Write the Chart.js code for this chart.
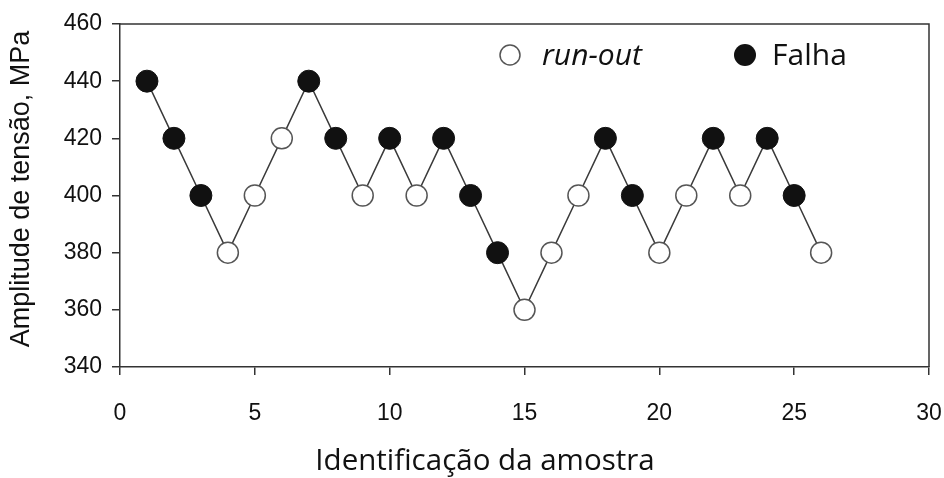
<!DOCTYPE html>
<html>
<head>
<meta charset="utf-8">
<script src="https://cdn.jsdelivr.net/npm/chart.js@4"></script>
<style>
  html, body { margin: 0; padding: 0; background: #fff; }
  #wrap { width: 944px; height: 478px; }
</style>
</head>
<body>
<div id="wrap"><canvas id="chart" width="944" height="478"></canvas></div>
<script>
// staircase test: stress level of each specimen, in test order
const specimens = [1, 2, 3, 4, 5, 6, 7, 8, 9, 10, 11, 12, 13, 14, 15, 16, 17, 18, 19, 20, 21, 22, 23, 24, 25, 26];
const stress = [440, 420, 400, 380, 400, 420, 440, 420, 400, 420, 400, 420, 400, 380, 360, 380, 400, 420, 400, 380, 400, 420, 400, 420, 400, 380];
// F = falha, R = run-out
const outcome = ['F', 'F', 'F', 'R', 'R', 'R', 'F', 'F', 'R', 'F', 'R', 'F', 'F', 'F', 'R', 'R', 'R', 'F', 'F', 'R', 'R', 'F', 'R', 'F', 'F', 'R'];
const xTicks = [0, 5, 10, 15, 20, 25, 30];
const yTicks = [340, 360, 380, 400, 420, 440, 460];
const xTitle = 'Identificação da amostra';
const yTitle = 'Amplitude de tensão, MPa';

const AXIS = '#333';
const INK = '#111';

const allPoints = specimens.map((s, i) => ({ x: s, y: stress[i] }));
const runOut = allPoints.filter((p, i) => outcome[i] === 'R');
const failed = allPoints.filter((p, i) => outcome[i] === 'F');

// top/right frame lines, axis titles and the in-plot legend
const frameAndLegend = {
    id: 'frameAndLegend',
    afterDraw(chart) {
        const { ctx, chartArea: a } = chart;
        ctx.save();
        ctx.strokeStyle = AXIS;
        ctx.lineWidth = 1.5;
        ctx.beginPath();
        ctx.moveTo(a.left, a.top);
        ctx.lineTo(a.right, a.top);
        ctx.lineTo(a.right, a.bottom);
        ctx.stroke();

        // axis titles sit a bit left / above the plot centre
        ctx.fillStyle = INK;
        ctx.textAlign = 'center';
        ctx.textBaseline = 'middle';
        ctx.font = '29.5px "Open Sans"';
        ctx.fillText(xTitle, 485, 462);

        ctx.save();
        ctx.translate(22, 189);
        ctx.rotate(-Math.PI / 2);
        ctx.font = '27px "Liberation Sans"';
        ctx.fillText(yTitle, 0, 0);
        ctx.restore();

        const ly = 55;
        ctx.lineWidth = 1.5;
        ctx.beginPath();
        ctx.arc(510, ly, 10, 0, Math.PI * 2);
        ctx.fillStyle = '#fff';
        ctx.fill();
        ctx.strokeStyle = '#555';
        ctx.stroke();

        ctx.beginPath();
        ctx.arc(745, ly, 11, 0, Math.PI * 2);
        ctx.fillStyle = INK;
        ctx.fill();

        ctx.fillStyle = INK;
        ctx.textAlign = 'left';
        ctx.font = 'italic 30px "Open Sans"';
        ctx.fillText('run-out', 542, ly + 1);
        ctx.font = '30px "Open Sans"';
        ctx.fillText('Falha', 772, ly + 1);
        ctx.restore();
    }
};

new Chart(document.getElementById('chart'), {
    type: 'scatter',
    data: {
        datasets: [{
            label: 'sequência',
            data: allPoints,
            showLine: true,
            borderColor: '#3a3a3a',
            borderWidth: 1.5,
            pointRadius: 0,
            order: 3
        }, {
            label: 'run-out',
            data: runOut,
            pointRadius: 10.5,
            pointBackgroundColor: '#fff',
            pointBorderColor: '#555',
            pointBorderWidth: 1.5,
            order: 1
        }, {
            label: 'Falha',
            data: failed,
            pointRadius: 11,
            pointBackgroundColor: INK,
            pointBorderColor: INK,
            pointBorderWidth: 1,
            order: 2
        }]
    },
    options: {
        responsive: false,
        animation: false,
        layout: { padding: { top: 24, right: 15, left: 0, bottom: 0 } },
        plugins: {
            legend: { display: false },
            tooltip: { enabled: false }
        },
        scales: {
            x: {
                type: 'linear',
                min: 0,
                max: 30,
                afterBuildTicks: axis => { axis.ticks = xTicks.map(v => ({ value: v })); },
                afterFit: axis => { axis.height = 111; axis.paddingRight = 0; axis.paddingLeft = 0; },
                grid: { drawOnChartArea: false, drawTicks: true, tickLength: 8, color: AXIS, lineWidth: 1.5 },
                border: { color: AXIS, width: 1.5 },
                ticks: { color: INK, font: { family: 'Liberation Sans', size: 23 }, padding: 25, maxRotation: 0 },
                title: { display: false }
            },
            y: {
                min: 340,
                max: 460,
                afterBuildTicks: axis => { axis.ticks = yTicks.map(v => ({ value: v })); },
                afterFit: axis => { axis.width = 120; axis.paddingTop = 0; axis.paddingBottom = 0; },
                grid: { drawOnChartArea: false, drawTicks: true, tickLength: 8, color: AXIS, lineWidth: 1.5 },
                border: { color: AXIS, width: 1.5 },
                ticks: { color: INK, font: { family: 'Liberation Sans', size: 23 }, padding: 10 },
                title: { display: false }
            }
        }
    },
    plugins: [frameAndLegend]
});
</script>
</body>
</html>
